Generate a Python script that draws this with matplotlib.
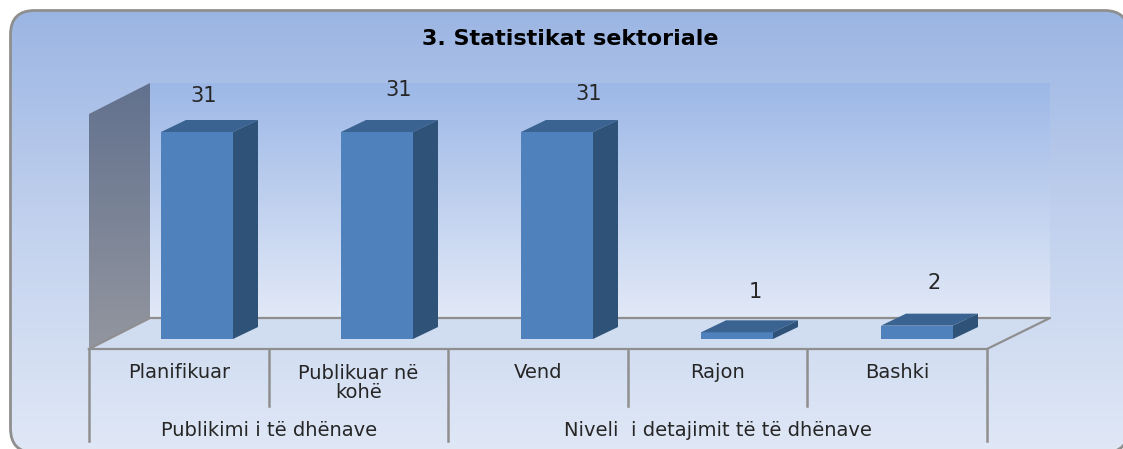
import numpy as np
import matplotlib.pyplot as plt
from matplotlib.colors import LinearSegmentedColormap
from matplotlib.patches import FancyBboxPatch, Polygon

# te dhenat
categories = ["Planifikuar", "Publikuar në\nkohë", "Vend", "Rajon", "Bashki"]
values = [31, 31, 31, 1, 2]
groups = ["Publikimi i të dhënave", "Niveli  i detajimit të të dhënave"]
group_spans = [(0, 2), (2, 5)]
title = "3. Statistikat sektoriale"

# ngjyrat
FRONT, TOP, SIDE = "#4F81BD", "#3B6391", "#2F5279"
GRID = "#8F8F8F"
TEXT = "#262626"

W, H = 1123, 449
fig = plt.figure(figsize=(W / 100, H / 100), dpi=100, facecolor="white")

# sfondi ne koordinata pikselash
bg = fig.add_axes([0, 0, 1, 1])
bg.set_xlim(0, W)
bg.set_ylim(H, 0)
bg.axis("off")


def gradient(ax, colors, extent, clip=None, zorder=1):
    cmap = LinearSegmentedColormap.from_list("g", colors)
    im = ax.imshow(np.linspace(0, 1, 256).reshape(-1, 1), cmap=cmap, aspect="auto",
                   extent=extent, zorder=zorder, interpolation="bilinear")
    if clip is not None:
        im.set_clip_path(clip)
    return im


# fc me alfa shume te vogel qe agg te mos e prese kurben ne skaj
panel = FancyBboxPatch((10.5, 10.5), 1118, 442, boxstyle="round,pad=0,rounding_size=24",
                       fc=(1, 1, 1, 0.001), ec=GRID, lw=2, zorder=6, clip_on=False)
bg.add_patch(panel)
gradient(bg, ["#9BB5E3", "#C3D2EE", "#E0E8F6"], (10, 1129, 453, 10), clip=panel)

# muri i pasem, muri i majte, dyshemeja
gradient(bg, ["#9DB8E7", "#E2E9F7"], (150, 1050, 318, 83), zorder=2)
left_wall = Polygon([(89, 114), (150, 83), (150, 318), (89, 349)], fc="none", ec="none", zorder=2)
bg.add_patch(left_wall)
gradient(bg, ["#62718E", "#93969F"], (89, 150, 349, 83), clip=left_wall, zorder=2)
bg.add_patch(Polygon([(89, 349), (150, 318), (1050, 318), (987, 349)], fc="#D0DCF0", ec="none", zorder=2))
bg.set_xlim(0, W)
bg.set_ylim(H, 0)

# vijat
bg.plot([89, 150, 1050, 987, 89], [349, 318, 318, 349, 349], color=GRID, lw=1.6, zorder=3)
step = (987 - 89) / len(categories)
for i in range(len(categories) + 1):
    long_line = i in (0, 2, 5)
    bg.plot([89 + step * i] * 2, [349, 441 if long_line else 406], color=GRID, lw=1.8, zorder=3)

# etiketat e kategorive
for i, name in enumerate(categories):
    bg.text(89 + step * (i + 0.5), 372 if "\n" not in name else 383, name, ha="center", va="center",
            fontsize=14, color=TEXT, linespacing=1.0, zorder=4)
for name, (a, b) in zip(groups, group_spans):
    bg.text(89 + step * (a + b) / 2, 430, name, ha="center", va="center", fontsize=14, color=TEXT, zorder=4)

bg.text(570, 39, title, ha="center", va="center", fontsize=16, fontweight="bold", color="black", zorder=4)

# shtyllat, ne boshtin e te dhenave
ax = fig.add_axes([107 / W, (H - 339) / H, 900 / W, 207 / H])
ax.patch.set_alpha(0)
ax.axis("off")
ax.set_xlim(-0.5, 4.5)
ax.set_ylim(0, 31)
x = np.arange(len(values))
width = 72 / 180
dx = 25 / 180
dy = 12 * 31 / 207
label_offsets = [(7, 36), (22, 42), (32, 38), (18, 40), (17, 43)]

ax.bar(x, values, width=width, color=FRONT, clip_on=False, zorder=3)
for xi, v, off in zip(x, values, label_offsets):
    l, r = xi - width / 2, xi + width / 2
    ax.add_patch(Polygon([(l, v), (r, v), (r + dx, v + dy), (l + dx, v + dy)], fc=TOP, ec="none", clip_on=False, zorder=3))
    ax.add_patch(Polygon([(r, 0), (r + dx, dy), (r + dx, v + dy), (r, v)], fc=SIDE, ec="none", clip_on=False, zorder=3))
    ax.annotate(str(v), (xi, v), xytext=off, textcoords="offset pixels", ha="center", va="center",
                fontsize=15, color=TEXT, annotation_clip=False)

fig.savefig("out.png", dpi=100)
